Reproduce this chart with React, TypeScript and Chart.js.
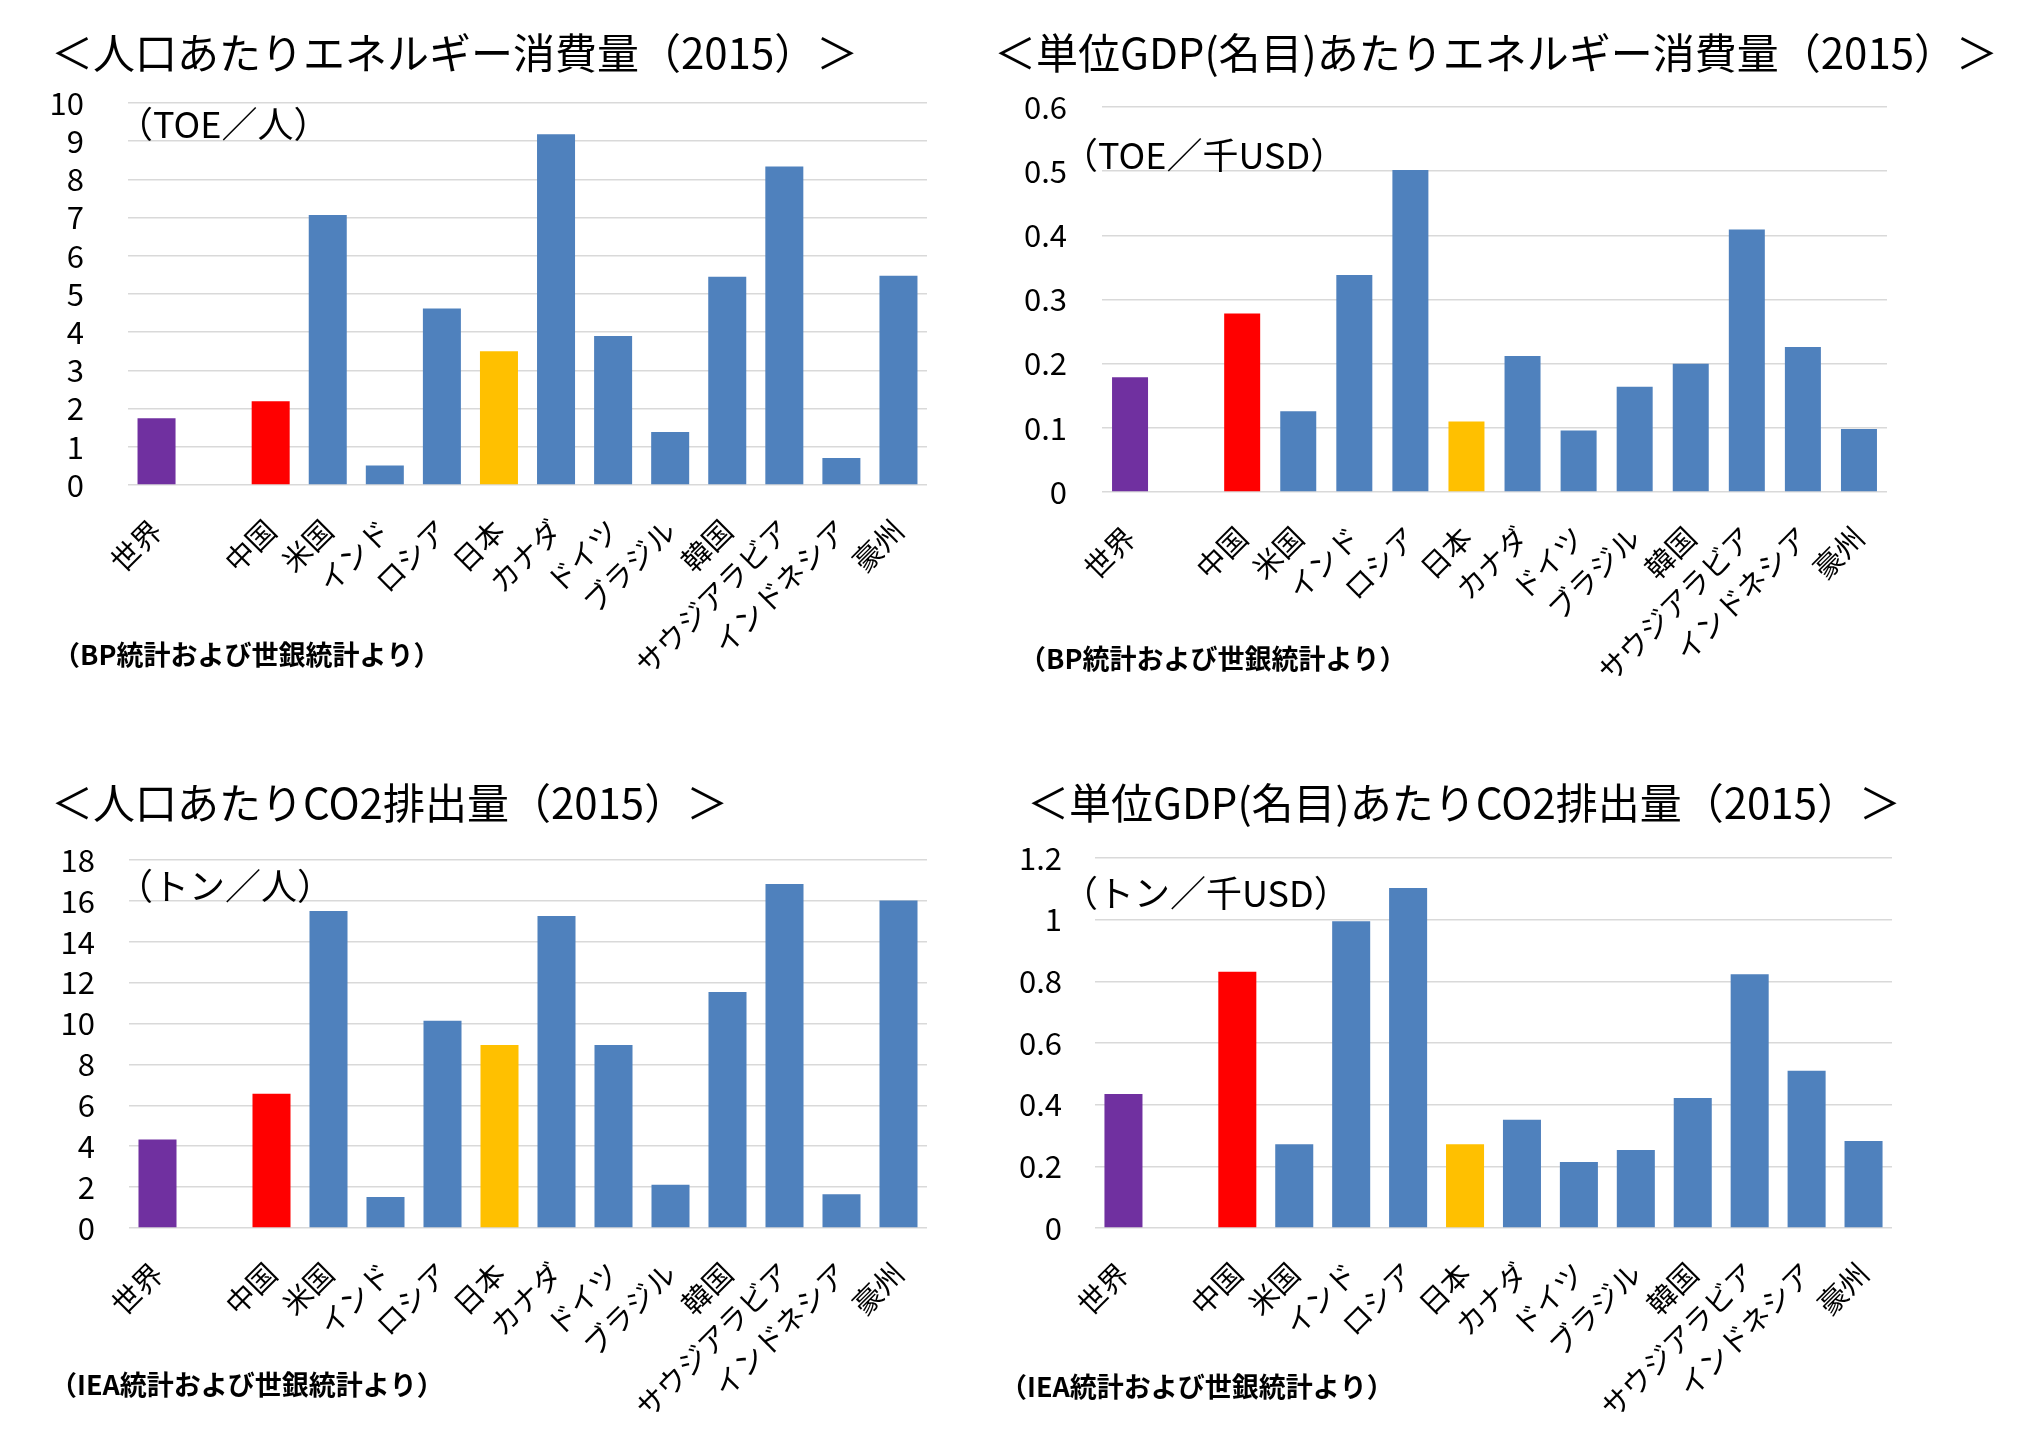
import React, { useEffect, useRef } from 'react';
import { Chart, registerables } from 'chart.js';

Chart.register(...registerables);

const FONT = "'Noto Sans CJK JP', 'Noto Sans', sans-serif";

// ---- data ----
const categories = ['世界', '', '中国', '米国', 'インド', 'ロシア', '日本', 'カナダ', 'ドイツ', 'ブラジル', '韓国', 'サウジアラビア', 'インドネシア', '豪州'];
const energyPerCapita = [1.75, null, 2.19, 7.07, 0.51, 4.62, 3.5, 9.18, 3.9, 1.39, 5.45, 8.34, 0.71, 5.48];
const energyPerGdp = [0.179, null, 0.278, 0.126, 0.338, 0.502, 0.11, 0.212, 0.096, 0.164, 0.2, 0.409, 0.226, 0.098];
const co2PerCapita = [4.33, null, 6.57, 15.5, 1.52, 10.14, 8.95, 15.26, 8.95, 2.11, 11.54, 16.83, 1.65, 16.02];
const co2PerGdp = [0.435, null, 0.831, 0.272, 0.995, 1.103, 0.272, 0.351, 0.214, 0.253, 0.422, 0.823, 0.51, 0.282];

const PURPLE = '#7030A0';
const RED = '#FF0000';
const BLUE = '#4F81BD';
const GOLD = '#FFC000';
const barColors = [PURPLE, BLUE, RED, BLUE, BLUE, BLUE, GOLD, BLUE, BLUE, BLUE, BLUE, BLUE, BLUE, BLUE];

const titles = [
  '＜人口あたりエネルギー消費量（2015）＞',
  '＜単位GDP(名目)あたりエネルギー消費量（2015）＞',
  '＜人口あたりCO2排出量（2015）＞',
  '＜単位GDP(名目)あたりCO2排出量（2015）＞',
];
const units = ['（TOE／人）', '（TOE／千USD）', '（トン／人）', '（トン／千USD）'];
const sources = ['（BP統計および世銀統計より）', '（BP統計および世銀統計より）', '（IEA統計および世銀統計より）', '（IEA統計および世銀統計より）'];
const yMaxes = [10, 0.6, 18, 1.2];
const ySteps = [1, 0.1, 2, 0.2];

type Panel = {
  values: (number | null)[];
  title: string;
  unit: string;
  source: string;
  yMax: number;
  yStep: number;
  box: { left: number; top: number; width: number; height: number };
  area: { left: number; top: number; right: number; bottom: number };
  tickPad: number;
  barPct: number;
  titlePos: [number, number];
  unitPos: [number, number];
  sourcePos: [number, number];
};

const Y_W = 95;
const X_H = 205;

const panels: Panel[] = [
  {
    values: energyPerCapita, title: titles[0], unit: units[0], source: sources[0], yMax: yMaxes[0], yStep: ySteps[0],
    box: { left: 0, top: 0, width: 1000, height: 718 },
    area: { left: 128, top: 103, right: 927, bottom: 485 },
    tickPad: 44, barPct: 0.666,
    titlePos: [51, 53], unitPos: [117, 124], sourcePos: [53, 655],
  },
  {
    values: energyPerGdp, title: titles[1], unit: units[1], source: sources[1], yMax: yMaxes[1], yStep: ySteps[1],
    box: { left: 980, top: 0, width: 1058, height: 718 },
    area: { left: 122, top: 107, right: 907, bottom: 492 },
    tickPad: 35, barPct: 0.642,
    titlePos: [14, 53], unitPos: [82, 155], sourcePos: [39, 659],
  },
  {
    values: co2PerCapita, title: titles[2], unit: units[2], source: sources[2], yMax: yMaxes[2], yStep: ySteps[2],
    box: { left: 0, top: 718, width: 1000, height: 719 },
    area: { left: 129, top: 142, right: 927, bottom: 510 },
    tickPad: 34, barPct: 0.667,
    titlePos: [51, 85], unitPos: [117, 168], sourcePos: [50, 667],
  },
  {
    values: co2PerGdp, title: titles[3], unit: units[3], source: sources[3], yMax: yMaxes[3], yStep: ySteps[3],
    box: { left: 980, top: 718, width: 1058, height: 719 },
    area: { left: 115, top: 140, right: 912, bottom: 510 },
    tickPad: 33, barPct: 0.668,
    titlePos: [47, 85], unitPos: [82, 175], sourcePos: [20, 669],
  },
];

const textPlugin = {
  id: 'panelText',
  afterDraw(chart: any, _args: any, opts: any) {
    const ctx = chart.ctx;
    ctx.save();
    ctx.fillStyle = '#000';
    ctx.textBaseline = 'middle';
    ctx.textAlign = 'left';
    ctx.font = `400 42px ${FONT}`;
    ctx.fillText(opts.title, opts.titlePos[0], opts.titlePos[1]);
    ctx.font = `400 36px ${FONT}`;
    ctx.fillText(opts.unit, opts.unitPos[0], opts.unitPos[1]);
    ctx.font = `700 27px ${FONT}`;
    ctx.fillText(opts.source, opts.sourcePos[0], opts.sourcePos[1]);
    ctx.restore();
  },
};

function BarPanel({ p }: { p: Panel }) {
  const ref = useRef<HTMLCanvasElement>(null);
  useEffect(() => {
    if (!ref.current) return;
    const chart = new Chart(ref.current, {
      type: 'bar',
      data: {
        labels: categories,
        datasets: [
          {
            data: p.values as any,
            backgroundColor: barColors,
            barPercentage: p.barPct,
            categoryPercentage: 1,
          },
        ],
      },
      options: {
        responsive: false,
        maintainAspectRatio: false,
        animation: false,
        layout: {
          padding: {
            left: p.area.left - Y_W,
            top: p.area.top,
            right: p.box.width - p.area.right,
            bottom: p.box.height - p.area.bottom - X_H,
          },
        },
        plugins: {
          legend: { display: false },
          tooltip: { enabled: false },
          title: { display: false },
          panelText: {
            title: p.title, unit: p.unit, source: p.source,
            titlePos: p.titlePos, unitPos: p.unitPos, sourcePos: p.sourcePos,
          },
        } as any,
        scales: {
          x: {
            grid: { display: false, drawTicks: false },
            border: { display: false },
            ticks: {
              autoSkip: false,
              minRotation: 45,
              maxRotation: 45,
              padding: 28,
              color: '#000',
              font: { family: FONT, size: 29 },
            },
            afterFit: (scale: any) => { scale.height = X_H; },
          },
          y: {
            min: 0,
            max: p.yMax,
            grid: { color: '#d9d9d9', lineWidth: 1.5, drawTicks: false },
            border: { display: false },
            ticks: {
              stepSize: p.yStep,
              autoSkip: false,
              padding: p.tickPad,
              color: '#000',
              font: { family: FONT, size: 31 },
              callback: (v: any) => String(Number(Number(v).toFixed(2))),
            },
            afterFit: (scale: any) => { scale.width = Y_W; },
          },
        },
      },
      plugins: [textPlugin],
    });
    return () => chart.destroy();
  }, [p]);
  return (
    <canvas
      ref={ref}
      width={p.box.width}
      height={p.box.height}
      style={{ position: 'absolute', left: p.box.left, top: p.box.top, width: p.box.width, height: p.box.height }}
    />
  );
}

export default function App() {
  return (
    <div style={{ position: 'fixed', left: 0, top: 0, width: 2038, height: 1437, background: '#fff', overflow: 'hidden' }}>
      {panels.map((p, i) => (
        <BarPanel key={i} p={p} />
      ))}
    </div>
  );
}
